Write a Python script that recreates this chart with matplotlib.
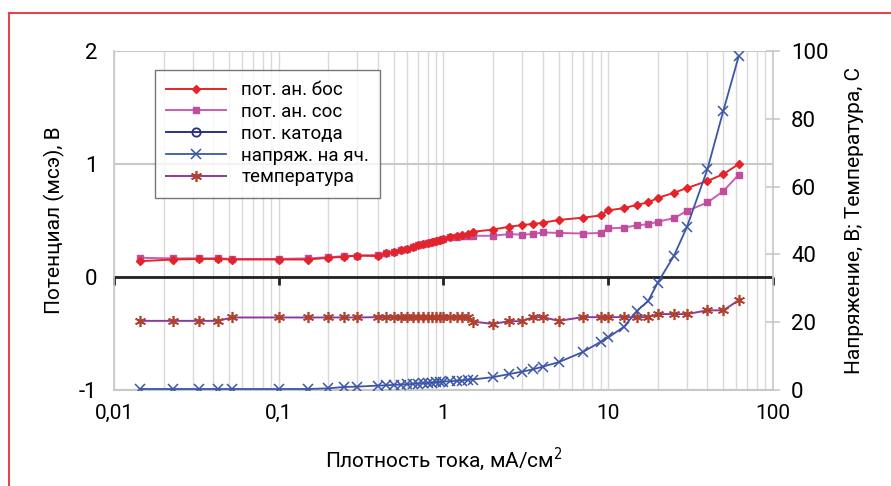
import matplotlib
matplotlib.use("Agg")
import matplotlib.pyplot as plt
from matplotlib.lines import Line2D
from matplotlib.markers import TICKDOWN
from matplotlib.ticker import FixedLocator, FuncFormatter, NullFormatter, LogLocator

plt.rcParams['font.family'] = ['Roboto', 'DejaVu Sans']
plt.rcParams['font.stretch'] = 'condensed'
plt.rcParams['axes.unicode_minus'] = False

# current density, mA/cm2
density = [0.0143, 0.0229, 0.0329, 0.0429, 0.052, 0.1, 0.15, 0.2, 0.25, 0.3,
           0.4, 0.45, 0.5, 0.55, 0.6, 0.65, 0.7, 0.75, 0.8, 0.85, 0.9, 0.95, 1.0,
           1.1, 1.2, 1.3, 1.4, 1.5,
           2, 2.5, 3, 3.5, 4, 5, 7, 9, 10,
           12.5, 15, 17.5, 20, 25, 30, 40, 50, 62]

pot_an_bos = [0.14, 0.155, 0.16, 0.16, 0.155, 0.155, 0.155, 0.17, 0.18, 0.19,
              0.185, 0.21, 0.225, 0.235, 0.25, 0.265, 0.28, 0.29, 0.30, 0.31, 0.32, 0.33, 0.335,
              0.35, 0.36, 0.375, 0.385, 0.40,
              0.42, 0.445, 0.46, 0.47, 0.48, 0.505, 0.525, 0.545, 0.59,
              0.61, 0.64, 0.66, 0.70, 0.745, 0.787, 0.85, 0.91, 1.0]

pot_an_sos = [0.17, 0.165, 0.165, 0.165, 0.16, 0.16, 0.165, 0.175, 0.185, 0.19,
              0.195, 0.21, 0.225, 0.235, 0.25, 0.265, 0.28, 0.29, 0.30, 0.31, 0.32, 0.33, 0.335,
              0.35, 0.355, 0.36, 0.365, 0.365,
              0.365, 0.38, 0.375, 0.38, 0.395, 0.39, 0.385, 0.39, 0.43,
              0.437, 0.458, 0.467, 0.49, 0.52, 0.584, 0.66, 0.76, 0.907]

voltage = [0.3, 0.3, 0.3, 0.3, 0.3, 0.3, 0.3, 0.5, 0.9, 1.0,
           1.3, 1.4, 1.5, 1.6, 1.7, 1.8, 1.9, 2.0, 2.1, 2.2, 2.3, 2.4, 2.5,
           2.6, 2.7, 2.8, 3.0, 3.1,
           3.8, 4.7, 5.4, 6.1, 6.9, 8.2, 11.2, 14.2, 15.5,
           18.7, 23.4, 26.3, 31.7, 39.5, 48.0, 65.1, 82.4, 98.5]

temperature = [20.4, 20.4, 20.4, 20.4, 21.4, 21.4, 21.4, 21.4, 21.4, 21.4,
               21.5, 21.5, 21.5, 21.5, 21.5, 21.5, 21.5, 21.5, 21.5, 21.5, 21.5, 21.5, 21.5,
               21.5, 21.5, 21.5, 21.5, 20.2,
               19.5, 20.3, 20.3, 21.5, 21.5, 20.4, 21.5, 21.5, 21.5,
               21.5, 21.5, 21.5, 22.4, 22.4, 22.4, 23.5, 23.5, 26.5]

x_ticks = [0.01, 0.1, 1, 10, 100]
left_ticks = [-1, 0, 1, 2]
right_ticks = [0, 20, 40, 60, 80, 100]

grid_c = '#c8c8c8'
fig = plt.figure(figsize=(8.91, 4.86), dpi=100)
ax = fig.add_axes([0.128, 0.1975, 0.7395, 0.6975])
ax2 = ax.twinx()

ax.set_xscale('log')
ax.set_xlim(0.01, 100)
ax.set_ylim(-1, 2)
ax2.set_ylim(0, 100)

# grid
ax.xaxis.set_major_locator(FixedLocator(x_ticks))
ax.xaxis.set_minor_locator(LogLocator(base=10, subs=range(2, 10)))
ax.xaxis.set_minor_formatter(NullFormatter())
ax.xaxis.set_major_formatter(FuncFormatter(lambda v, p: ('%g' % v).replace('.', ',')))
ax.grid(True, which='both', axis='x', color='#d9d9d9', lw=1.0)
ax.set_yticks(left_ticks)
ax.grid(True, which='major', axis='y', color=grid_c, lw=1.5)
ax.set_axisbelow(True)

ax.tick_params(axis='x', which='both', length=0, labelsize=15, pad=10)
ax.tick_params(axis='y', length=0, labelsize=16, pad=12)
ax2.set_yticks(right_ticks)
ax2.tick_params(axis='y', direction='inout', length=10, width=1.2, color=grid_c, labelsize=16, pad=8)

for s in ['top', 'right']:
    ax.spines[s].set_visible(False)
ax.spines['left'].set_color(grid_c)
ax.spines['bottom'].set_color(grid_c)
ax.spines['bottom'].set_linewidth(1.5)
ax.spines['left'].set_linewidth(1.2)
for s in ['top', 'left', 'bottom']:
    ax2.spines[s].set_visible(False)
ax2.spines['right'].set_color(grid_c)
ax2.spines['right'].set_linewidth(1.2)

# black zero axis with decade ticks
ax.axhline(0, color='#222222', lw=2, zorder=1.5)
ax.plot(x_ticks, [0] * len(x_ticks), ls='none', marker=TICKDOWN, ms=6, mew=2,
        color='#222222', zorder=1.5, clip_on=False)

l1, = ax.plot(density, pot_an_bos, color='#e3242b', lw=1.4, marker='D', ms=4,
              label='пот. ан. бос', zorder=4)
l2, = ax.plot(density, pot_an_sos, color='#cc5cb4', lw=1.4, marker='s', ms=4.5,
              mfc='#c04c9e', mec='#c04c9e', label='пот. ан. сос', zorder=3)
l3, = ax.plot([], [], color='#2a3087', lw=1.4, marker='o', ms=6, mfc='none',
              mew=1.3, label='пот. катода')
l4, = ax2.plot(density, voltage, color='#3b55a8', lw=1.3, marker='x', ms=6.5,
               mew=1.1, label='напряж. на яч.', zorder=3)
l5, = ax2.plot(density, temperature, color='#8e3a98', lw=1.4, marker=(6, 2, 0), ms=8,
               mec='#b1402c', mew=1.2, label='температура', zorder=2)

ax.set_ylabel('Потенциал (мсэ), В', fontsize=15, labelpad=10)
ax2.set_ylabel('Напряжение, В; Температура, С', fontsize=15, rotation=90, labelpad=12)
ax.set_xlabel('Плотность тока, мА/см$^2$', fontsize=15, labelpad=16)

leg = ax2.legend(handles=[l1, l2, l3, l4, l5], loc='upper left',
                 bbox_to_anchor=(0.062, 0.944), borderaxespad=0, fontsize=13.5,
                 frameon=True, fancybox=False, edgecolor='#555555', handlelength=3.2,
                 borderpad=0.6, labelspacing=0.2, handletextpad=0.8)
leg.get_frame().set_linewidth(1.0)

# red page frame
fig.add_artist(Line2D([0.0105, 0.0105], [0, 0.974], color='#e0474c', lw=1.5))
fig.add_artist(Line2D([0.0105, 1.0], [0.974, 0.974], color='#e0474c', lw=1.5))

fig.savefig('out.png', dpi=100)
